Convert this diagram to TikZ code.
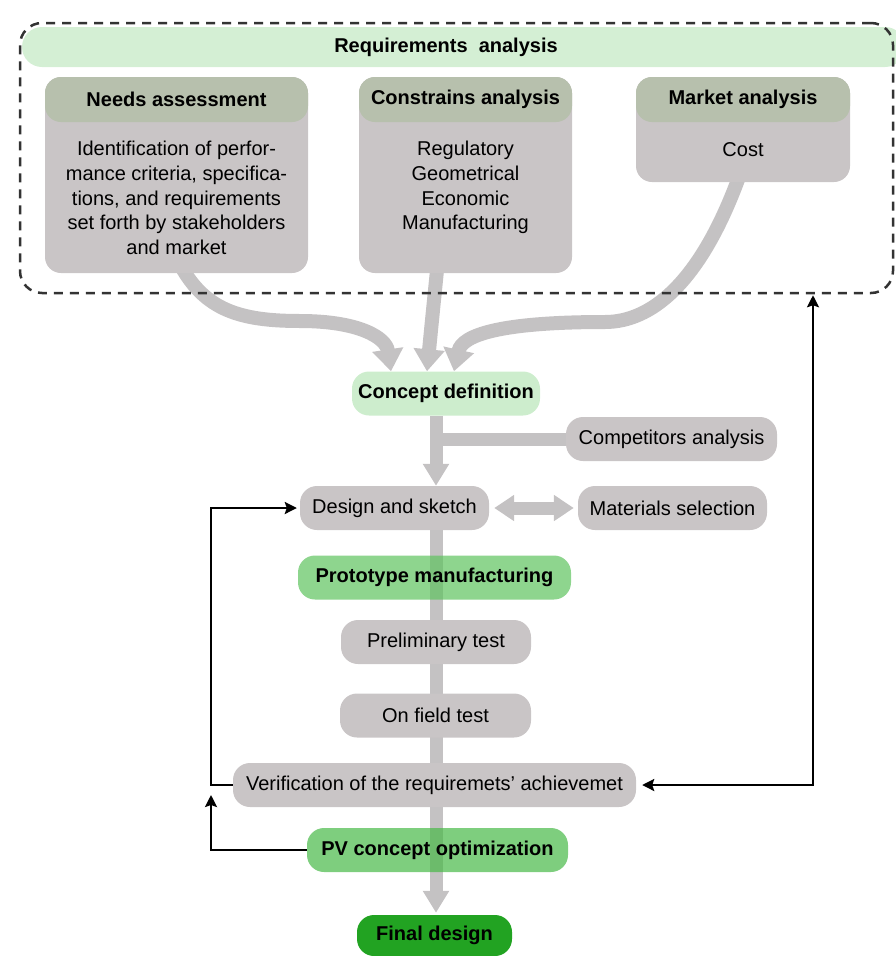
\documentclass[tikz,border=0pt]{standalone}
\usepackage{fontspec}
\setmainfont{Liberation Sans}
\usetikzlibrary{arrows.meta,calc}
\pgfdeclarelayer{background}
\pgfsetlayers{background,main}
\definecolor{reqgreen}{HTML}{D4EFD4}
\definecolor{hdrgray}{HTML}{B7C0AD}
\definecolor{bodygray}{HTML}{C9C5C6}
\definecolor{linkgray}{HTML}{C4C2C3}
\definecolor{conceptgreen}{HTML}{CDEDCD}
\definecolor{protogreen}{HTML}{5EC35E}
\definecolor{pvgreen}{HTML}{47B947}
\definecolor{finalgreen}{HTML}{22A322}
\definecolor{framegray}{HTML}{333333}
\begin{document}
\begin{tikzpicture}[x=1pt,y=-1pt,
  base/.style={font=\fontsize{20}{24.8}\selectfont, inner sep=0pt, align=center},
  hdr/.style={font=\fontsize{20}{24.8}\selectfont\bfseries, inner sep=0pt, align=center},
  bigbox/.style={fill=bodygray, rounded corners=16pt, inner sep=0pt},
  hdrbox/.style={hdr, fill=hdrgray, rounded corners=16pt, minimum height=45pt},
  graypill/.style={base, fill=bodygray, rounded corners=17pt, minimum height=44pt},
  greenpill/.style={hdr, rounded corners=17pt, minimum height=44pt},
  linkline/.style={draw=linkgray, line width=13pt},
  curvelink/.style={draw=linkgray, line width=14pt, -{Triangle[width=30pt,length=22pt]}},
  spinetip/.style={-{Triangle[width=25pt,length=22pt]}},
  blackline/.style={draw=black, line width=2.3pt},
  blacktip/.tip={Stealth[width=12pt,length=12pt,inset=2pt]}
]
\path[use as bounding box] (0,0) rectangle (896,956);

% requirements area
\node[fill=reqgreen, rounded corners=20pt, minimum width=883pt, minimum height=40pt, inner sep=0pt] (reqbar) at (463.5,47) {};
\node[hdr] (reqtext) at (446,47) {Requirements\ \ analysis};

\node[bigbox, minimum width=263pt, minimum height=196pt] (needs) at (176.5,175) {};
\node[hdrbox, minimum width=263pt] (needshd) at (176.5,99.5) {Needs assessment};
\node[base] (needstxt) at (176.5,198) {Identification of perfor-\\mance criteria, specifica-\\tions, and requirements\\set forth by stakeholders\\and market};

\node[bigbox, minimum width=213pt, minimum height=196pt] (cons) at (465.5,175) {};
\node[hdrbox, minimum width=213pt] (conshd) at (465.5,99.5) {Constrains analysis};
\node[base] (constxt) at (465.5,187.5) {Regulatory\\Geometrical\\Economic\\Manufacturing};

\node[bigbox, minimum width=214pt, minimum height=105pt] (market) at (743,129.5) {};
\node[hdrbox, minimum width=214pt] (markethd) at (743,99.5) {Market analysis};
\node[base] (markettxt) at (743,150) {Cost};

\node[draw=framegray, line width=2.5pt, dash pattern=on 9pt off 7pt, rounded corners=22pt,
      minimum width=873pt, minimum height=270pt, inner sep=0pt] (reqframe) at (456.5,158) {};

% process nodes
\node[greenpill, fill=conceptgreen, minimum width=188pt] (cdef) at (446,393.5) {Concept definition};
\node[graypill, minimum width=211pt] (comp) at (671.5,439) {Competitors analysis};
\node[graypill, minimum width=189pt] (design) at (394.5,508) {Design and sketch};
\node[graypill, minimum width=189pt] (mat) at (672.5,508) {Materials selection};
\node[greenpill, fill=protogreen, fill opacity=0.7, text opacity=1, minimum width=273pt] (proto) at (434.5,577.5) {Prototype manufacturing};
\node[graypill, minimum width=190pt] (prelim) at (436,642) {Preliminary test};
\node[graypill, minimum width=191pt] (field) at (435.5,715.5) {On field test};
\node[graypill, minimum width=403pt] (verif) at (434.5,785) {Verification of the requiremets' achievemet};
\node[greenpill, fill=pvgreen, fill opacity=0.7, text opacity=1, minimum width=261pt] (pv) at (437.5,850) {PV concept optimization};
\node[greenpill, fill=finalgreen, minimum width=155pt, minimum height=41pt] (final) at (434.5,935.5) {Final design};

\coordinate (spine) at (436,0);
\coordinate (lx) at (211,0);
\coordinate (lxtip) at (211,795);
\coordinate (rx) at (813,0);

% thick gray connectors
\begin{pgfonlayer}{background}
\draw[curvelink] ($(needs.south)+(4,-8)$) .. controls (205,310) and (240,321) .. (300,321)
      .. controls (360,321) and (386,338) .. ($(cdef.north)+(-55,0)$);
\draw[curvelink] ($(cons.south)+(-28,-8)$) .. controls (432,320) .. ($(cdef.north)+(-19,0)$);
\draw[curvelink] ($(market.south)+(-3,-8)$) .. controls (700,285) and (650,322) .. (605,322)
      .. controls (500,322) and (462,335) .. ($(cdef.north)+(8,0)$);
\draw[linkline, spinetip] (cdef.south -| spine) -- (design.north -| spine);
\draw[linkline] (comp.west) -- (comp.west -| spine);
\draw[linkline, {Triangle[width=25pt,length=20pt]}-{Triangle[width=25pt,length=20pt]}, shorten <=5pt, shorten >=4pt] (design.east) -- (mat.west);
\draw[linkline, spinetip, shorten >=2pt] (design.south -| spine) -- (final.north -| spine);
\end{pgfonlayer}

% black feedback arrows
\draw[blackline, -{blacktip}, shorten >=3pt] (verif.west) -- (verif.west -| lx) |- (design.west);
\draw[blackline, -{blacktip}] (pv.west) -| (lxtip);
\draw[blackline, {blacktip}-{blacktip}, shorten <=6pt, shorten >=1pt] (verif.east) -| (reqframe.south -| rx);
\end{tikzpicture}
\end{document}
